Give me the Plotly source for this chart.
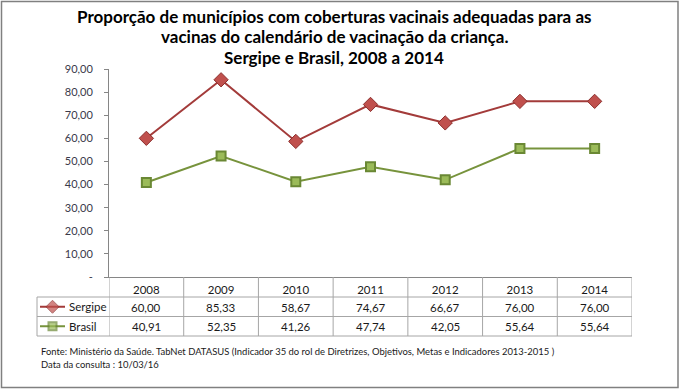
import plotly.graph_objects as go

years = ["2008", "2009", "2010", "2011", "2012", "2013", "2014"]
sergipe = [60.00, 85.33, 58.67, 74.67, 66.67, 76.00, 76.00]
brasil = [40.91, 52.35, 41.26, 47.74, 42.05, 55.64, 55.64]
series_names = ["Sergipe", "Brasil"]
ytick_vals = [0, 10, 20, 30, 40, 50, 60, 70, 80, 90]
ytick_text = ["-", "10,00", "20,00", "30,00", "40,00", "50,00", "60,00", "70,00", "80,00", "90,00"]

title_lines = ["Proporção de municípios com coberturas vacinais adequadas para as",
               "vacinas do calendário de vacinação da criança.",
               "Sergipe e Brasil, 2008 a 2014"]
foot1 = "Fonte: Ministério da Saúde. TabNet DATASUS (Indicador 35 do rol de Diretrizes, Objetivos, Metas e Indicadores 2013-2015 )"
foot2 = "Data da consulta : 10/03/16"

W, H = 680, 389
def px(x): return x / W
def py(y): return 1 - y / H

FONT = "Lato"
TXT = "#1a1a1a"
red_line, red_fill, red_edge = "#A33B3A", "#C0504D", "#8C2E2C"
grn_line, grn_fill, grn_edge = "#77933C", "#9BBB59", "#6A8834"
grid = "#A6A6A6"
axis_c = "#868686"

x_left, x_right = 109, 632
y_top, y_axis = 69, 277
row_top, row_mid, row_bot = 297, 316.5, 336
leg_left = 37

fig = go.Figure()
fig.add_trace(go.Scatter(x=years, y=sergipe, mode="lines+markers", name=series_names[0],
                         line=dict(color=red_line, width=2),
                         marker=dict(symbol="diamond", size=11, color=red_fill,
                                     line=dict(color=red_edge, width=1)),
                         showlegend=False))
fig.add_trace(go.Scatter(x=years, y=brasil, mode="lines+markers", name=series_names[1],
                         line=dict(color=grn_line, width=2),
                         marker=dict(symbol="square", size=9, color=grn_fill,
                                     line=dict(color=grn_edge, width=2)),
                         showlegend=False))

# legend swatches in the table
fig.add_trace(go.Scatter(x=[0, 0.5, 1], y=[1.5, 1.5, 1.5], mode="lines+markers",
                         xaxis="x2", yaxis="y2", showlegend=False, hoverinfo="skip",
                         line=dict(color=red_line, width=2),
                         marker=dict(symbol="diamond", size=[0, 10, 0], color=red_fill,
                                     line=dict(color=red_edge, width=1))))
fig.add_trace(go.Scatter(x=[0, 0.5, 1], y=[0.5, 0.5, 0.5], mode="lines+markers",
                         xaxis="x2", yaxis="y2", showlegend=False, hoverinfo="skip",
                         line=dict(color=grn_line, width=2),
                         marker=dict(symbol="square", size=[0, 8, 0], color=grn_fill,
                                     line=dict(color=grn_edge, width=2))))

def ann(x, y, text, size, xref="paper", xanchor="left", color=TXT, bold=False):
    return dict(x=x, y=y, xref=xref, yref="paper", text=(f"<b>{text}</b>" if bold else text),
                xanchor=xanchor, yanchor="middle", showarrow=False,
                font=dict(family=FONT, size=size, color=color))

annotations = []
for i, line in enumerate(title_lines):
    annotations.append(ann(px(334), py(17 + 20 * i), line, 17, xanchor="center", color="black", bold=True))
for i, yr in enumerate(years):
    annotations.append(ann(i, py(307), f"{sergipe[i]:.2f}".replace(".", ","), 11.5, xref="x", xanchor="center"))
    annotations.append(ann(i, py(326.5), f"{brasil[i]:.2f}".replace(".", ","), 11.5, xref="x", xanchor="center"))
annotations.append(ann(px(67), py(306.5), series_names[0], 11.5))
annotations.append(ann(px(67), py(326), series_names[1], 11.5))
annotations.append(ann(px(39), py(351), foot1, 9.45))
annotations.append(ann(px(39), py(364), foot2, 9.45))

shapes = []
# outer border
shapes.append(dict(type="rect", xref="paper", yref="paper", x0=px(1.5), x1=px(678), y0=py(387.5), y1=py(1.5),
                   line=dict(color="#808080", width=1.5)))
# table horizontal lines
for yy in (row_top, row_mid, row_bot):
    shapes.append(dict(type="line", xref="paper", yref="paper", x0=px(leg_left), x1=px(x_right),
                       y0=py(yy), y1=py(yy), line=dict(color=grid, width=1)))
# legend column left
shapes.append(dict(type="line", xref="paper", yref="paper", x0=px(leg_left), x1=px(leg_left),
                   y0=py(row_top), y1=py(row_bot), line=dict(color=grid, width=1)))
# category separators
for k in range(len(years) + 1):
    shapes.append(dict(type="line", xref="x", yref="paper", x0=k - 0.5, x1=k - 0.5,
                       y0=py(y_axis), y1=py(row_bot), line=dict(color=grid, width=1)))

fig.update_layout(
    template="none",
    width=W, height=H, autosize=False,
    margin=dict(l=0, r=0, t=0, b=0, pad=0, autoexpand=False),
    paper_bgcolor="white", plot_bgcolor="white",
    xaxis=dict(domain=[px(x_left), px(x_right)], type="category", range=[-0.5, 6.5], automargin=False,
               showline=True, linecolor=axis_c, linewidth=1, ticks="", showgrid=False, zeroline=False,
               tickfont=dict(family=FONT, size=11.5, color=TXT), ticklabelstandoff=2,
               fixedrange=True),
    yaxis=dict(domain=[py(y_axis), py(y_top)], range=[0, 90], tickvals=ytick_vals, ticktext=ytick_text,
               automargin=False,
               showline=True, linecolor=axis_c, linewidth=1, ticks="outside", ticklen=4, tickcolor=axis_c,
               showgrid=False, zeroline=False, ticklabelstandoff=9,
               tickfont=dict(family=FONT, size=11, color="#3a3a4a"), fixedrange=True),
    xaxis2=dict(domain=[px(40), px(65)], range=[0, 1], visible=False, anchor="y2", fixedrange=True,
                automargin=False),
    yaxis2=dict(domain=[py(row_bot), py(row_top)], range=[0, 2], visible=False, anchor="x2", fixedrange=True,
                automargin=False),
    annotations=annotations, shapes=shapes,
)

fig.write_html("out.html", config={"displayModeBar": False},
               post_script="document.body.style.margin='0';document.body.style.overflow='hidden';")
